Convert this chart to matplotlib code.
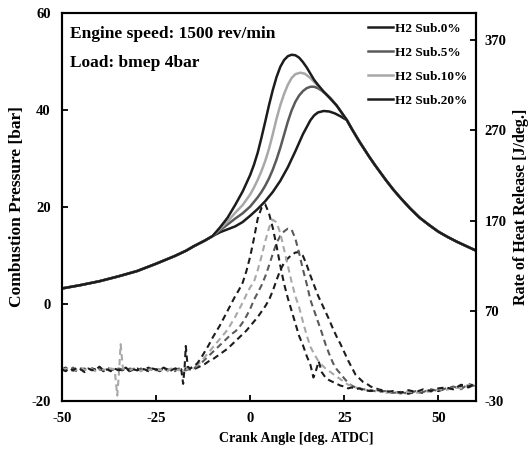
import matplotlib
matplotlib.use("Agg")
import matplotlib.pyplot as plt

plt.rcParams['font.family'] = 'Liberation Serif'
plt.rcParams['font.weight'] = 'bold'
plt.rcParams['axes.unicode_minus'] = False

# combustion pressure [bar] vs crank angle
ca_p_common = [-50, -45, -40, -35, -30, -25, -20, -17, -15, -12, -10]
p_common = [3.2, 3.9, 4.7, 5.7, 6.8, 8.3, 9.9, 11.0, 11.9, 13.1, 14.0]

ca_p_tail = [25.7, 27, 28, 29, 30, 31.5, 33, 34.5, 36, 38, 40, 42.5, 45, 47.5, 50, 52.5, 55, 57.5, 60]
p_tail = [37.9, 36.1, 34.8, 33.5, 32.3, 30.5, 28.8, 27.2, 25.6, 23.6, 21.8, 19.7, 17.8, 16.3,
          14.9, 13.8, 12.8, 11.9, 11.0]

ca_p20 = [-8, -6, -4, -2, 0, 1, 2, 3, 4, 5, 6, 7, 8, 9, 10, 11, 12, 13, 14, 15, 16, 17, 18,
          19.5, 21, 23]
p20 = [15.8, 17.8, 20.4, 23.2, 26.6, 28.7, 31.2, 34.3, 37.6, 41.0, 44.1, 46.8, 48.9, 50.3, 51.1,
       51.4, 51.3, 50.8, 49.9, 48.8, 47.5, 46.2, 45.2, 43.8, 42.6, 40.9]

ca_p10 = [-8, -6, -4, -2, 0, 1, 2, 3, 4, 5, 6, 7, 8, 9, 10, 11, 12, 13.3, 14.5, 16, 17.5, 19.5,
          21, 23]
p10 = [15.5, 17.0, 18.8, 20.4, 22.6, 24.0, 25.6, 27.4, 29.5, 32.0, 35.0, 38.2, 41.0, 43.3, 45.2,
       46.6, 47.4, 47.7, 47.5, 46.6, 45.4, 43.8, 42.6, 40.9]

ca_p5 = [-8, -6, -4, -2, 0, 2, 3, 4, 5, 6, 7, 8, 9, 10, 11, 12, 13, 14, 15, 16, 17, 18, 19, 20,
         21.5, 23]
p5 = [15.2, 16.4, 17.6, 18.7, 20.1, 22.0, 23.1, 24.4, 25.9, 27.7, 29.8, 32.2, 34.9, 37.6, 39.9,
      41.7, 43.0, 43.9, 44.5, 44.8, 44.8, 44.5, 44.0, 43.4, 42.3, 40.9]

ca_p0 = [-8, -6, -4, -2, 0, 2, 4, 6, 8, 10, 12, 14, 16, 17, 18, 19.5, 21, 22.5, 24]
p0 = [14.8, 15.4, 16.0, 16.9, 18.2, 19.6, 21.2, 23.1, 25.4, 28.2, 31.5, 35.0, 37.9, 38.9, 39.5,
      39.8, 39.7, 39.3, 38.7]

# rate of heat release [J/deg.] vs crank angle
ca_h20 = list(range(-50, -18)) + [-18.3, -17.8, -17.4, -17.1, -16.6] + list(range(-16, 17)) + \
    [16.8, 17.5, 18.2] + list(range(19, 30)) + list(range(30, 61, 2))
h20 = [5, 3, 6, 4, 7, 5, 2, 6, 4, 5, 8, 4, 5, 3, 6, 4, 5, 7, 3, 5, 4, 6, 5, 3, 6, 5, 4, 7, 5, 4, 6, 5,
       5, -11, 8, 31, 8,
       6, 8, 12, 18, 25, 32, 40, 47, 54, 62, 70, 78, 86, 93, 101, 114, 130, 150, 172, 184, 188, 178,
       162, 142, 120, 100, 84, 70, 56, 42, 32, 20, 10,
       -4, 4, 14,
       2, -4, -7, -9, -11, -13, -14, -16, -15, -17, -16,
       -18, -19, -18, -20, -19, -21, -18, -20, -17, -19, -16, -15, -17, -12, -14, -10]

ca_h10 = list(range(-50, -36)) + [-36, -35.3, -34.8, -34.4, -33.8] + list(range(-33, 29)) + \
    list(range(30, 61, 2))
h10 = [4, 6, 5, 3, 5, 7, 4, 6, 5, 3, 6, 5, 4, 6,
       5, -24, 4, 33, 6,
       5, 4, 6, 5, 3, 6, 4, 5, 7, 4, 5, 3, 6, 5, 4, 6, 5, 7,
       7, 10, 14, 19, 24, 29, 34, 39, 44, 49, 56, 63, 71, 79, 88, 96, 102, 115, 130, 147, 162, 171,
       168, 156, 138, 120, 102, 86, 74, 58, 43, 30, 22, 15, 10, 6, 3, 0, -3, -6, -9, -12, -13, -15,
       -17, -19, -18, -21, -20, -22, -19, -21, -18, -20, -17, -18, -15, -16, -12, -13]

ca_h5 = list(range(-50, 29)) + list(range(30, 61, 2))
h5 = [6, 4, 5, 7, 3, 5, 6, 4, 6, 3, 5, 4, 7, 5, 4, 6, 5, 3, 6, 5, 4, 6, 3, 5, 7, 4, 5, 6, 4, 5, 3, 6,
      5, 4, 6,
      6, 9, 12, 16, 20, 24, 28, 32, 36, 40, 44, 47, 51, 57, 64, 72, 82, 90, 98, 108, 120, 133, 145,
      153, 158, 161, 160, 150, 134, 116, 100, 82, 70, 58, 46, 33, 22, 12, 5, 0, -5, -10, -13, -15,
      -17, -18, -20, -19, -21, -20, -22, -19, -20, -17, -19, -16, -14, -17, -11, -14]

ca_h0 = list(range(-50, 12)) + [12, 13] + list(range(14, 33)) + list(range(34, 61, 2))
h0 = [5, 7, 4, 5, 3, 6, 5, 4, 6, 5, 7, 3, 5, 4, 6, 5, 4, 6, 3, 5, 6, 4, 5, 7, 4, 5, 3, 6, 5, 4, 6, 5,
      4, 6, 5,
      5, 7, 9, 11, 14, 16, 19, 22, 25, 28, 32, 36, 40, 44, 48, 53, 58, 63, 69, 75, 82, 92, 104, 115,
      123, 128, 132, 134.5, 135, 131, 121, 109, 98, 87, 78, 69, 60, 50, 41, 33, 24, 15, 7, -1, -5,
      -9, -11, -14, -17, -19, -21, -20, -22, -20, -21, -18, -19, -16, -17, -13, -15, -11]

labels = ['H2 Sub.0%', 'H2 Sub.5%', 'H2 Sub.10%', 'H2 Sub.20%']
colors = ['#1c1c1c', '#5a5a5a', '#a8a8a8', '#1c1c1c']

fig = plt.figure(figsize=(5.29, 4.58), dpi=100)
ax = fig.add_axes([0.117, 0.1245, 0.783, 0.847])
ax2 = ax.twinx()

press = [(ca_p0, p0), (ca_p5, p5), (ca_p10, p10), (ca_p20, p20)]
heat = [(ca_h0, h0), (ca_h5, h5), (ca_h10, h10), (ca_h20, h20)]

for (cx, py), lab, c in zip(press, labels, colors):
    ax.plot(ca_p_common + cx + ca_p_tail, p_common + py + p_tail, color=c, lw=1.8, label=lab)

for (cx, hy), c in zip(heat, colors):
    ax2.plot(cx, hy, color=c, lw=1.5, linestyle=(0, (3, 2)))

ax.set_xlim(-50, 60)
ax.set_ylim(-20, 60)
ax2.set_ylim(-30, 400)
ax.set_xticks([-50, -25, 0, 25, 50])
ax.set_yticks([-20, 0, 20, 40, 60])
ax2.set_yticks([-30, 70, 170, 270, 370])

for a in (ax, ax2):
    for s in a.spines.values():
        s.set_linewidth(1.5)
    a.tick_params(direction='in', length=4, width=1.3, labelsize=10.5)
ax.tick_params(axis='y', pad=8)
ax.tick_params(axis='x', pad=8)
ax2.tick_params(axis='y', pad=6)

ax.set_ylabel('Combustion Pressure [bar]', fontsize=12.5, fontweight='bold')
ax.yaxis.set_label_coords(-0.09, 0.5)
ax2.set_ylabel('Rate of Heat Release [J/deg.]', fontsize=11.5, fontweight='bold')
ax2.yaxis.set_label_coords(1.09, 0.5)
ax.set_xlabel('Crank Angle [deg. ATDC]', fontsize=10, fontweight='bold')
ax.xaxis.set_label_coords(0.565, -0.08)

ax.text(0.02, 0.945, 'Engine speed: 1500 rev/min', transform=ax.transAxes,
        fontsize=12.5, fontweight='bold', va='center')
ax.text(0.02, 0.87, 'Load: bmep 4bar', transform=ax.transAxes,
        fontsize=12.5, fontweight='bold', va='center')

ax.legend(loc='upper right', bbox_to_anchor=(1.0, 1.0), frameon=False, fontsize=9.5,
          handlelength=1.9, handletextpad=0.1, labelspacing=0.9, borderaxespad=0.3)

fig.savefig('out.png', dpi=100)
